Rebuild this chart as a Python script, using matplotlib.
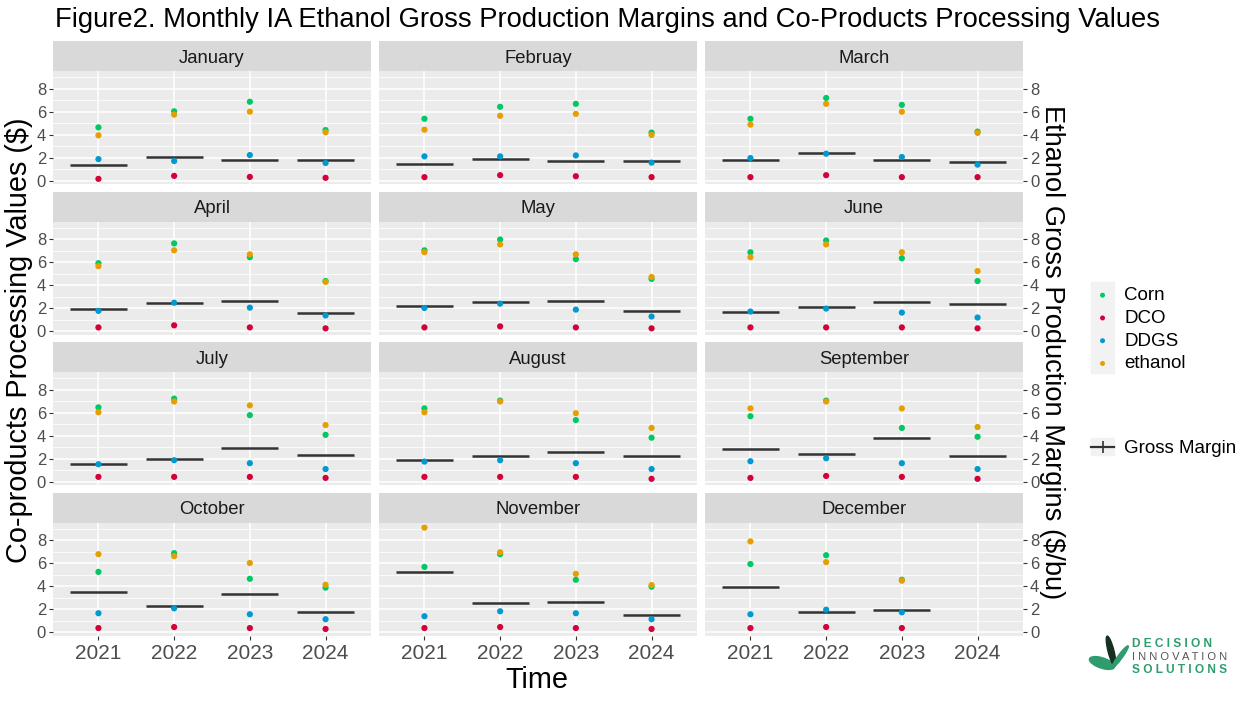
import numpy as np
import matplotlib
matplotlib.use("Agg")
import matplotlib.pyplot as plt
from matplotlib.lines import Line2D
from matplotlib.patches import Rectangle, Ellipse

plt.rcParams['font.family'] = ['Liberation Sans', 'DejaVu Sans']

months = ["January", "Februay", "March", "April", "May", "June",
          "July", "August", "September", "October", "November", "December"]
years = ["2021", "2022", "2023", "2024"]
nan = np.nan

# co-products processing values ($), rows = months, cols = years
corn = [[4.65, 6.05, 6.88, 4.42],
        [5.40, 6.44, 6.70, 4.20],
        [5.40, 7.21, 6.61, 4.28],
        [5.93, 7.65, 6.45, 4.38],
        [7.05, 7.99, 6.28, 4.56],
        [6.88, 7.91, 6.36, 4.38],
        [6.48, 7.24, 5.80, 4.09],
        [6.39, 7.07, 5.37, 3.84],
        [5.71, 7.07, 4.69, 3.92],
        [5.26, 6.89, 4.66, 3.89],
        [5.69, 6.80, 4.57, 3.97],
        [5.94, 6.71, 4.57, nan]]
dco = [[0.17, 0.43, 0.34, 0.26],
       [0.32, 0.49, 0.40, 0.32],
       [0.32, 0.49, 0.32, 0.32],
       [0.34, 0.52, 0.34, 0.26],
       [0.34, 0.43, 0.34, 0.26],
       [0.34, 0.34, 0.34, 0.26],
       [0.43, 0.43, 0.43, 0.34],
       [0.43, 0.43, 0.43, 0.26],
       [0.34, 0.51, 0.43, 0.26],
       [0.37, 0.46, 0.37, 0.29],
       [0.37, 0.46, 0.37, 0.29],
       [0.37, 0.46, 0.37, nan]]
ddgs = [[1.89, 1.72, 2.24, 1.55],
        [2.13, 2.13, 2.21, 1.58],
        [1.98, 2.36, 2.07, 1.41],
        [1.78, 2.49, 2.06, 1.38],
        [2.03, 2.41, 1.89, 1.29],
        [1.72, 1.98, 1.63, 1.20],
        [1.53, 1.88, 1.62, 1.11],
        [1.76, 1.88, 1.62, 1.11],
        [1.79, 2.05, 1.62, 1.11],
        [1.66, 2.09, 1.57, 1.14],
        [1.40, 1.83, 1.66, 1.14],
        [1.57, 1.97, 1.74, nan]]
ethanol = [[3.96, 5.76, 6.02, 4.22],
           [4.45, 5.66, 5.83, 3.99],
           [4.89, 6.70, 6.01, 4.17],
           [5.67, 7.05, 6.70, 4.30],
           [6.88, 7.56, 6.70, 4.73],
           [6.45, 7.56, 6.88, 5.24],
           [6.05, 6.99, 6.65, 4.94],
           [6.05, 6.99, 5.97, 4.69],
           [6.39, 6.99, 6.39, 4.77],
           [6.80, 6.63, 6.03, 4.14],
           [9.11, 6.97, 5.09, 4.11],
           [7.91, 6.11, 4.49, nan]]
# ethanol gross production margin ($/bu)
gross_margin = [[1.40, 2.04, 1.78, 1.78],
                [1.47, 1.93, 1.72, 1.72],
                [1.84, 2.44, 1.84, 1.64],
                [1.95, 2.44, 2.64, 1.58],
                [2.21, 2.55, 2.64, 1.75],
                [1.66, 2.12, 2.55, 2.38],
                [1.51, 2.02, 2.95, 2.33],
                [1.93, 2.27, 2.61, 2.27],
                [2.87, 2.44, 3.81, 2.27],
                [3.49, 2.31, 3.31, 1.77],
                [5.23, 2.54, 2.66, 1.54],
                [3.91, 1.80, 1.97, nan]]

series = [("Corn", corn, "#00C865"),
          ("DCO", dco, "#D3003A"),
          ("DDGS", ddgs, "#0099D0"),
          ("ethanol", ethanol, "#E69F00")]

W, H = 1249, 701
fig = plt.figure(figsize=(W / 100, H / 100), dpi=100)

allvals = np.array([s[1] for s in series] + [gross_margin], dtype=float)
lo, hi = np.nanmin(allvals), np.nanmax(allvals)
pad = (hi - lo) * 0.05
ylim = (lo - pad, hi + pad)

def px_axes(l, t, w, h):
    return fig.add_axes([l / W, 1 - (t + h) / H, w / W, h / H])

col_left = [53, 379, 705]
pw = 318
strip_h = 30
panel_h = 113
row_top = [41, 191.5, 342, 492.5]
xs = np.arange(1, len(years) + 1)

handles = []
for m, month in enumerate(months):
    r, c = divmod(m, 3)
    strip = px_axes(col_left[c], row_top[r], pw, strip_h)
    strip.set_facecolor("#D9D9D9")
    strip.set_xticks([]); strip.set_yticks([])
    for s in strip.spines.values():
        s.set_visible(False)
    strip.text(0.5, 0.42, month, ha="center", va="center", fontsize=13.3, color="#1A1A1A")

    ax = px_axes(col_left[c], row_top[r] + strip_h, pw, panel_h)
    ax.set_facecolor("#EBEBEB")
    for s in ax.spines.values():
        s.set_visible(False)
    ax.set_xlim(0.4, 4.6)
    ax.set_ylim(*ylim)
    ax.set_yticks([0, 2, 4, 6, 8])
    ax.set_yticks([1, 3, 5, 7, 9], minor=True)
    ax.set_xticks(xs)
    ax.grid(which="major", color="white", lw=1.1)
    ax.grid(which="minor", axis="y", color="white", lw=0.55)
    ax.set_axisbelow(True)
    ax.tick_params(which="minor", length=0)
    ax.tick_params(which="major", length=3, color="#333333", width=0.8,
                   labelsize=12, labelcolor="#4D4D4D", pad=2)
    ax.tick_params(axis="x", labelsize=15, pad=3)
    if r == 3:
        ax.set_xticklabels(years)
    else:
        ax.tick_params(axis="x", length=0, labelbottom=False)
    if c == 0:
        ax.tick_params(axis="y", left=True, labelleft=True, right=False)
    elif c == 2:
        ax.tick_params(axis="y", left=False, labelleft=False, right=True, labelright=True)
    else:
        ax.tick_params(axis="y", left=False, labelleft=False)

    ax.hlines(gross_margin[m], xs - 0.375, xs + 0.375, color="#333333", lw=1.8, zorder=2)
    for name, vals, col in series:
        h = ax.scatter(xs, vals[m], s=20, color=col, edgecolors="none", zorder=3, label=name)
        if m == 0:
            handles.append(h)

fig.text(55 / W, 1 - 20 / H, "Figure2. Monthly IA Ethanol Gross Production Margins and Co-Products Processing Values",
         ha="left", va="center", fontsize=19.7, color="black")
fig.text(19 / W, 1 - 340 / H, "Co-products Processing Values ($)", rotation=90,
         ha="center", va="center", fontsize=20.8)
fig.text(537 / W, 1 - 680 / H, "Time", ha="center", va="center", fontsize=20.8)
fig.text(1052 / W, 1 - 352 / H, "Ethanol Gross Production Margins ($/bu)", rotation=270,
         ha="center", va="center", fontsize=19.6)

# legend key backgrounds
fig.patches.append(Rectangle((1091 / W, 1 - 373 / H), 23 / W, 91 / H,
                             transform=fig.transFigure, color="#F2F2F2", zorder=1))
fig.patches.append(Rectangle((1091 / W, 1 - 455 / H), 23 / W, 17 / H,
                             transform=fig.transFigure, color="#F2F2F2", zorder=1))
fig.legend(handles=handles, labels=[s[0] for s in series], loc="upper left",
           bbox_to_anchor=(1091 / W, 1 - 287 / H), frameon=False, fontsize=13.5,
           borderaxespad=0, borderpad=0, handlelength=1.23, handletextpad=0.55,
           labelspacing=0.3, markerscale=0.8)
gm_handle = Line2D([], [], color="#333333", lw=1.6, marker="|", markersize=8, markeredgewidth=1.2)
fig.legend(handles=[gm_handle], labels=["Gross Margin"], loc="upper left",
           bbox_to_anchor=(1091 / W, 1 - 440 / H), frameon=False, fontsize=13.5,
           borderaxespad=0, borderpad=0, handlelength=1.23, handletextpad=0.55)

# logo
green = "#2E9C6E"
fig.patches.append(Ellipse((1102 / W, 1 - 663 / H), 30 / W, 9 / H, angle=-40,
                           transform=fig.transFigure, color=green))
fig.patches.append(Ellipse((1111 / W, 1 - 651 / H), 6 / W, 30 / H, angle=8,
                           transform=fig.transFigure, color="#16301F"))
fig.patches.append(Ellipse((1120 / W, 1 - 657 / H), 5 / W, 24 / H, angle=-22,
                           transform=fig.transFigure, color=green))
fig.text(1132 / W, 1 - 644 / H, "D E C I S I O N", fontsize=8.6, fontweight="bold",
         color=green, ha="left", va="center")
fig.text(1132 / W, 1 - 657 / H, "I N N O V A T I O N", fontsize=8,
         color="#555555", ha="left", va="center")
fig.text(1132 / W, 1 - 670 / H, "S O L U T I O N S", fontsize=8.6, fontweight="bold",
         color=green, ha="left", va="center")

fig.savefig("out.png", dpi=100)
